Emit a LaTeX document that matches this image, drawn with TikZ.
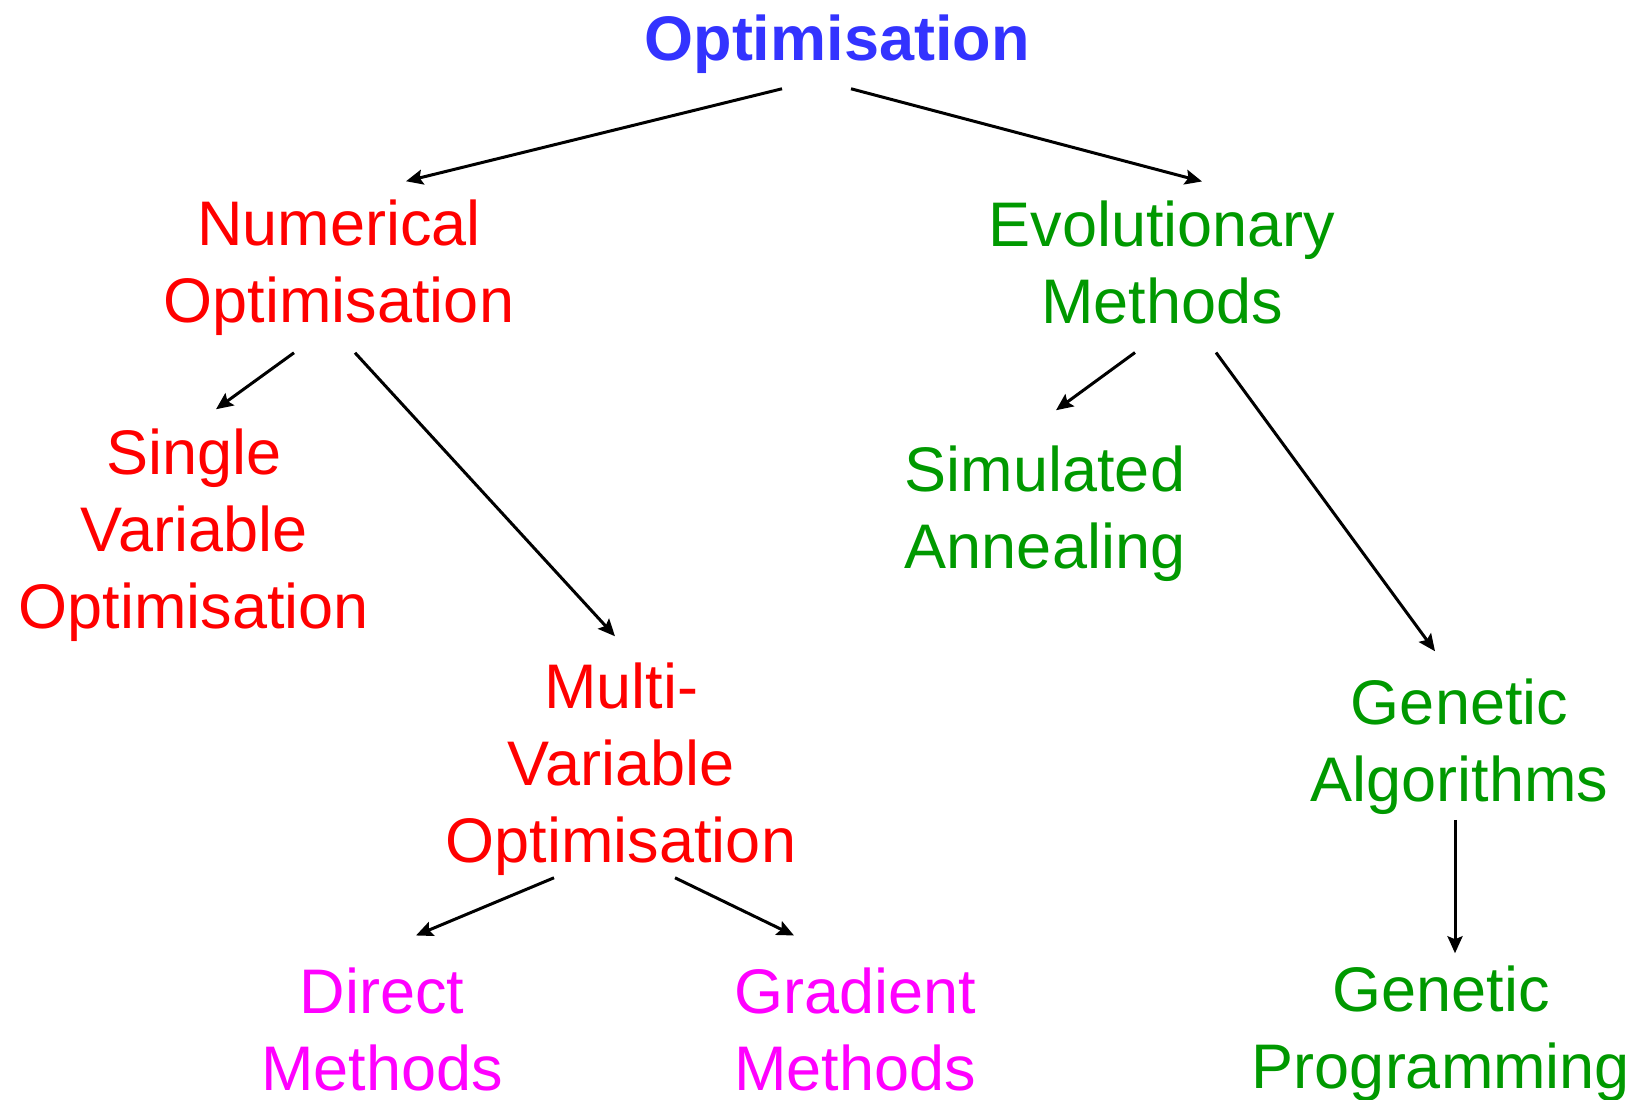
\documentclass[tikz,border=0pt]{standalone}
\usepackage{fontspec}
\setmainfont{Liberation Sans}
\usetikzlibrary{arrows.meta}
\definecolor{titleblue}{RGB}{51,51,255}
\definecolor{numred}{RGB}{255,0,0}
\definecolor{evogreen}{RGB}{0,153,0}
\definecolor{methpink}{RGB}{255,0,255}

\begin{document}
\begin{tikzpicture}[x=0.5pt, y=-0.5pt,
  lbl/.style={inner sep=0pt, align=center, font=\fontsize{31.5}{38.5}\selectfont},
  arr/.style={-{Stealth[length=8.5pt, width=7.5pt, inset=1.5pt]}, line width=1.5pt, black}]
\useasboundingbox (0,0) rectangle (1637,1099);
\node[lbl, titleblue, font=\fontsize{31.5}{38.5}\selectfont\bfseries] (title) at (837,44) {Optimisation};
\node[lbl, numred] (num) at (339,268) {Numerical\\Optimisation};
\node[lbl, evogreen] (evo) at (1162,262) {Evolutionary\\Methods};
\node[lbl, numred] (single) at (194,535.5) {Single\\Variable\\Optimisation};
\node[lbl, numred] (multi) at (621,769.5) {Multi-\\Variable\\Optimisation};
\node[lbl, evogreen] (sim) at (1045,514) {Simulated\\Annealing};
\node[lbl, evogreen] (ga) at (1459.5,747) {Genetic\\Algorithms};
\node[lbl, evogreen] (gp) at (1441,1034) {Genetic\\Programming};
\node[lbl, methpink] (direct) at (382,1029) {Direct\\Methods};
\node[lbl, methpink] (grad) at (855,1029) {Gradient\\Methods};
\draw[arr] ([shift={(-55,15)}]title.south) -- ([shift={(67,-18.5)}]num.north);
\draw[arr] ([shift={(14,15)}]title.south) -- ([shift={(40,-18.5)}]evo.north);
\draw[arr] ([shift={(-45,16.5)}]num.south) -- ([shift={(22,-19.5)}]single.north);
\draw[arr] ([shift={(16,16.5)}]num.south) -- ([shift={(-6,-26.5)}]multi.north);
\draw[arr] ([shift={(-27,28.5)}]evo.south) -- ([shift={(11,-35.5)}]sim.north);
\draw[arr] ([shift={(54,28.5)}]evo.south) -- ([shift={(-24.5,-27.5)}]ga.north);
\draw[arr] ([shift={(-67,1.5)}]multi.south) -- ([shift={(34,-31.5)}]direct.north);
\draw[arr] ([shift={(54,1.5)}]multi.south) -- ([shift={(-61,-31.5)}]grad.north);
\draw[arr] ([shift={(-4.5,4.5)}]ga.south) -- ([shift={(14,-12.5)}]gp.north);
\end{tikzpicture}
\end{document}
